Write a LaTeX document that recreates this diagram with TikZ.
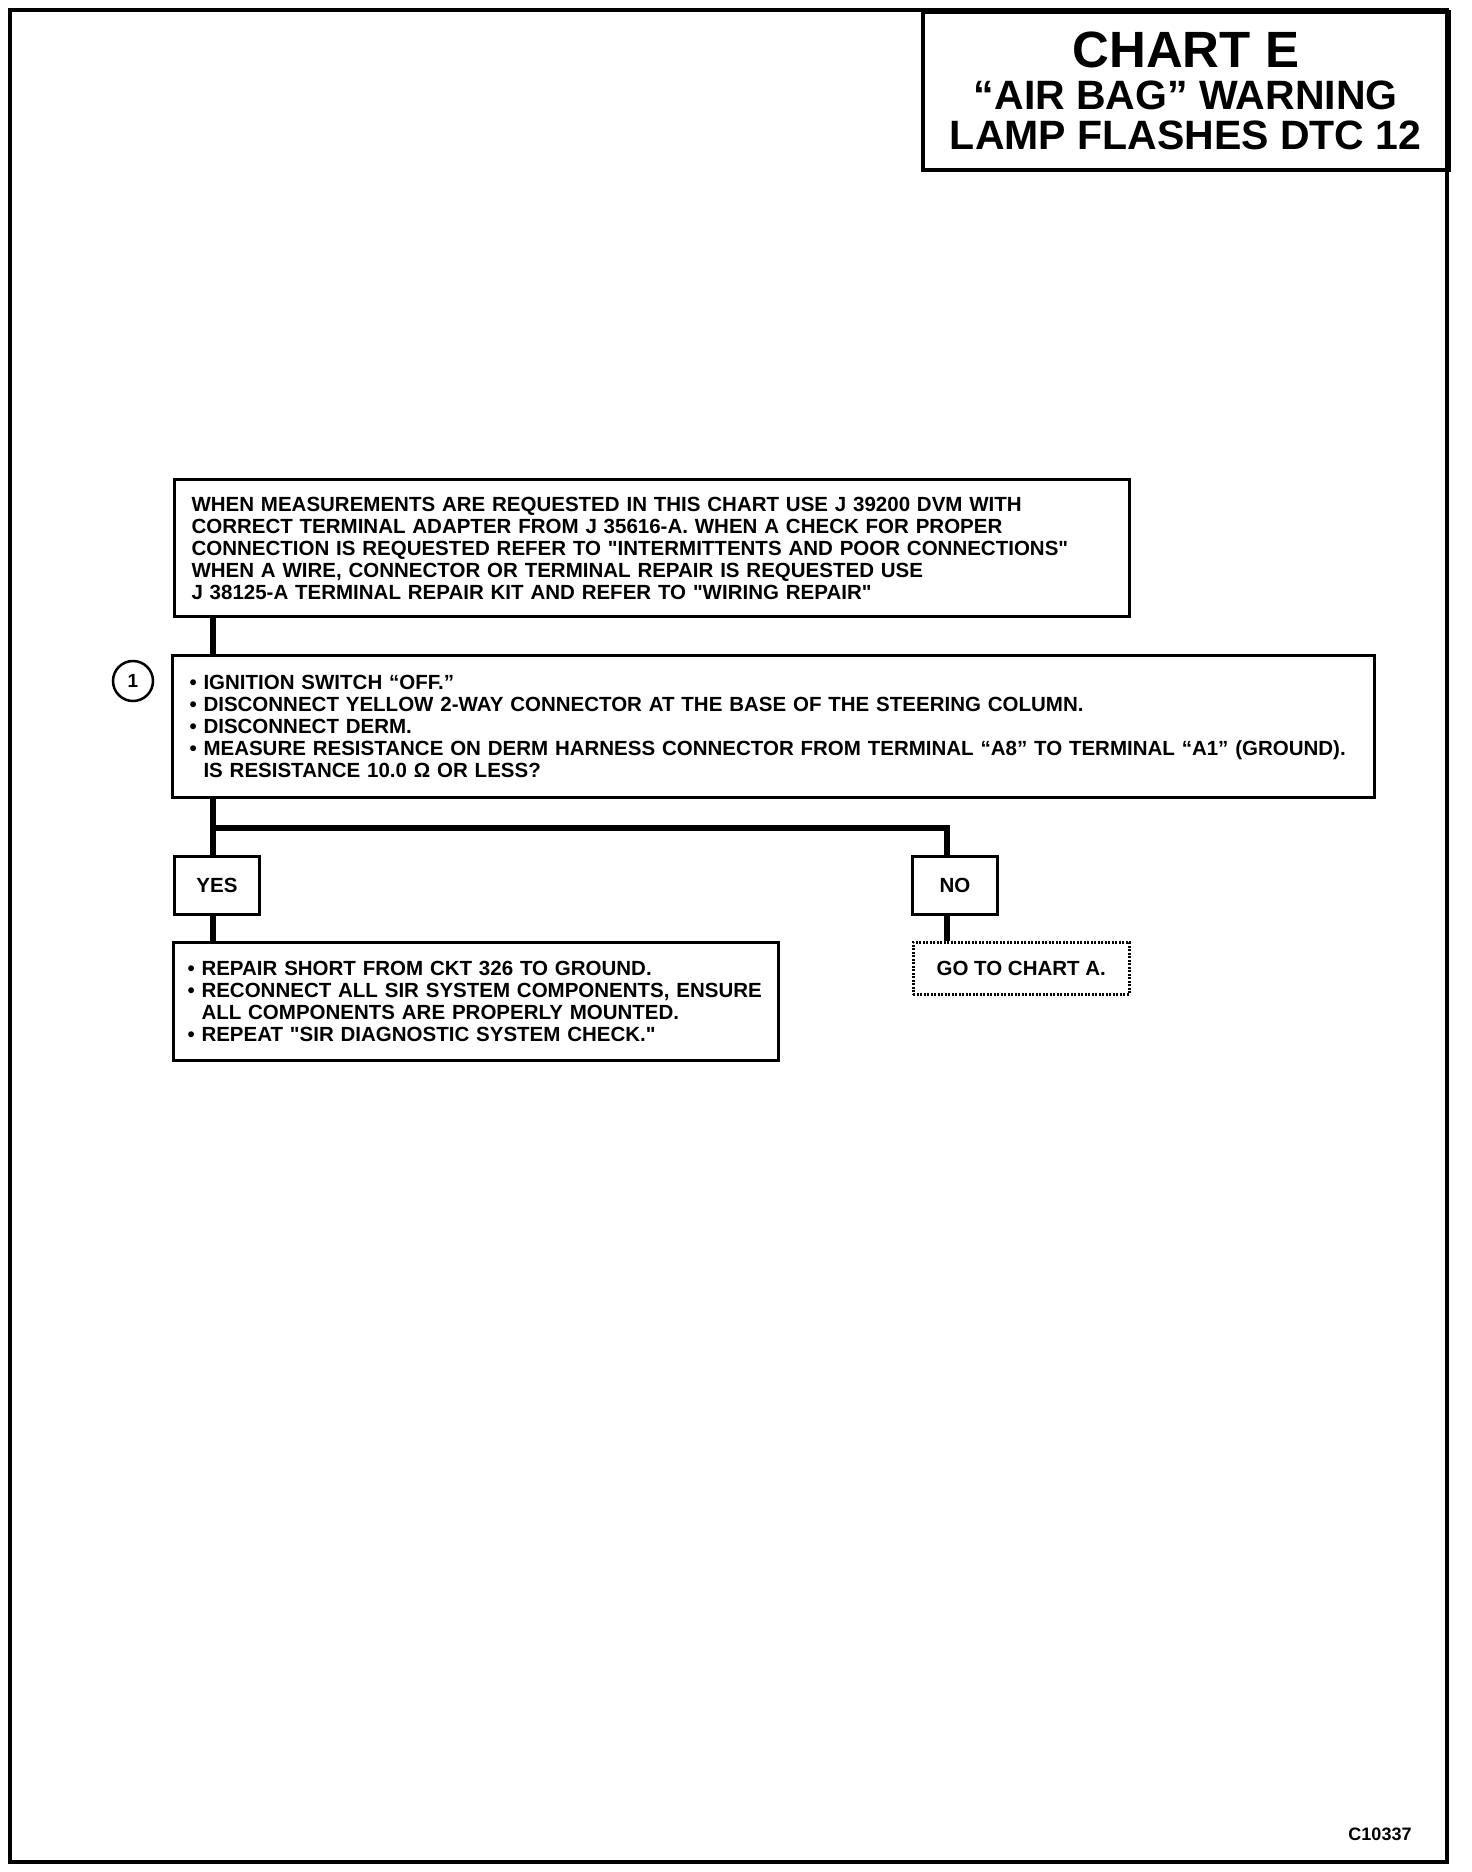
\documentclass[tikz,border=0pt]{standalone}
\usepackage{fontspec}
\setmainfont{Liberation Sans}[Ligatures=TeXOff]
\usepackage{tikz}
\usetikzlibrary{positioning}
\newcommand{\chartfont}{\fontsize{20.5}{22}\selectfont\bfseries}
\newcommand{\chartbullet}{\textbullet\ }
\tikzset{
  chartbox/.style={draw, line width=3pt, anchor=north west, inner xsep=17pt,
    inner ysep=0pt, align=left, font=\chartfont},
  answerbox/.style={draw, line width=3pt, anchor=north west, minimum width=85pt,
    minimum height=58pt, font=\chartfont},
  link/.style={line width=6.5pt}
}

\begin{document}
\begin{tikzpicture}[x=1pt, y=-1pt]
    \useasboundingbox (0,0) rectangle (1472,1872);
    \draw[line width=4pt] (10,10) rectangle (1447,1862);

    \node[draw, line width=3.5pt, anchor=north west, minimum width=526pt,
          minimum height=158pt, inner sep=0pt, align=center,
          font=\fontsize{41}{40}\selectfont\bfseries] (title) at (921,10) {
      {\fontsize{51}{51}\selectfont CHART E}\\[2pt]
      “AIR BAG” WARNING\\
      LAMP FLASHES DTC 12
    };

    \node[chartbox, text width=921pt, minimum height=137pt] (notes) at (173,478) {
      WHEN MEASUREMENTS ARE REQUESTED IN THIS CHART USE J 39200 DVM WITH\\
      CORRECT TERMINAL ADAPTER FROM J 35616-A. WHEN A CHECK FOR PROPER\\
      CONNECTION IS REQUESTED REFER TO "INTERMITTENTS AND POOR CONNECTIONS"\\
      WHEN A WIRE, CONNECTOR OR TERMINAL REPAIR IS REQUESTED USE\\
      J 38125-A TERMINAL REPAIR KIT AND REFER TO "WIRING REPAIR"
    };

    \node[chartbox, text width=1168pt, minimum height=142pt] (query) at (171,654) {
      \chartbullet IGNITION SWITCH “OFF.”\\
      \chartbullet DISCONNECT YELLOW 2-WAY CONNECTOR AT THE BASE OF THE STEERING COLUMN.\\
      \chartbullet DISCONNECT DERM.\\
      \mbox{\chartbullet MEASURE RESISTANCE ON DERM HARNESS CONNECTOR FROM TERMINAL “A8” TO TERMINAL “A1” (GROUND).}\\
      \phantom{\chartbullet}IS RESISTANCE 10.0 Ω OR LESS?
    };
    \node[draw, circle, line width=2.5pt, minimum size=40pt, inner sep=0pt,
          font=\fontsize{19}{19}\selectfont\bfseries] (step1) at (133,681) {1};

    \node[answerbox] (yes) at (173,855) {YES};
    \node[answerbox] (no) at (911,855) {NO};

    \node[chartbox, text width=577pt, minimum height=118pt, inner xsep=14pt] (repair) at (172,941) {
      \chartbullet REPAIR SHORT FROM CKT 326 TO GROUND.\\
      \mbox{\chartbullet RECONNECT ALL SIR SYSTEM COMPONENTS, ENSURE}\\
      \phantom{\chartbullet}ALL COMPONENTS ARE PROPERLY MOUNTED.\\
      \chartbullet REPEAT "SIR DIAGNOSTIC SYSTEM CHECK."
    };
    \node[draw, line width=2.5pt, dash pattern=on 2pt off 1.5pt, anchor=north west,
          minimum width=216pt, minimum height=52pt, font=\chartfont] (goto) at (912,941) {GO TO CHART A.};

    \coordinate (trunk) at (213,0);
    \coordinate (fork) at (213,828);
    \coordinate (nodrop) at (947,828);
    \draw[link] (notes.south -| trunk) -- (query.north -| trunk);
    \draw[link] (query.south -| trunk) -- (yes.north -| trunk);
    \draw[link] (fork) -| (no.north -| nodrop);
    \draw[link] (yes.south -| trunk) -- (repair.north -| trunk);
    \draw[link] (no.south -| nodrop) -- (goto.north -| nodrop);

    \node[font=\fontsize{18}{18}\selectfont\bfseries] (code) at (1380,1834) {C10337};
  \end{tikzpicture}
\end{document}
